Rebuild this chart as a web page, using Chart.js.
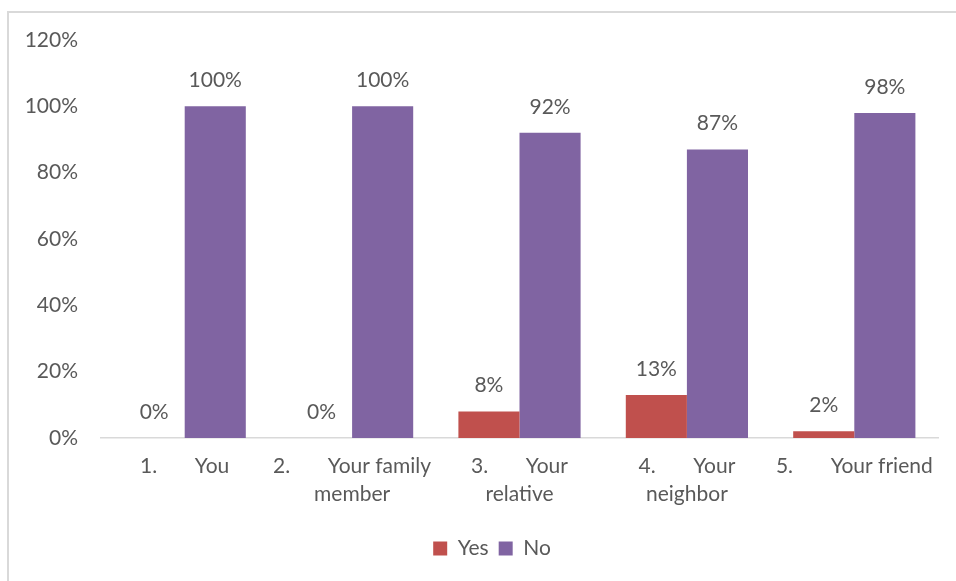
<!DOCTYPE html>
<html>
<head>
<meta charset="utf-8">
<script src="https://cdn.jsdelivr.net/npm/chart.js@4.4.1/dist/chart.umd.min.js"></script>
<style>
  html, body { margin: 0; padding: 0; background: #fff; }
  #frame {
    position: absolute; left: 7px; top: 11px; width: 949px; height: 570px;
    border-left: 2px solid #D9D9D9; border-top: 2px solid #D9D9D9;
  }
  #wrap { position: absolute; left: 0; top: 0; width: 956px; height: 581px; }
</style>
</head>
<body>
<div id="frame"></div>
<div id="wrap"><canvas id="myChart" width="956" height="581"></canvas></div>
<script>
// categories (multi-line labels as in the original)
const categories = [
  ['1.       You'],
  ['2.       Your family', 'member'],
  ['3.       Your', 'relative'],
  ['4.       Your', 'neighbor'],
  ['5.       Your friend']
];
const yesValues = [0, 0, 8, 13, 2];
const noValues = [100, 100, 92, 87, 98];
const yTicks = [0, 20, 40, 60, 80, 100, 120];

const textColor = '#595959';
const fontFamily = 'Lato, "Open Sans", sans-serif';

// draws the percent above every bar, the library has no built-in data labels
const valueLabels = {
  id: 'valueLabels',
  afterDatasetsDraw(chart) {
    const ctx = chart.ctx;
    ctx.save();
    ctx.font = '21px ' + fontFamily;
    ctx.fillStyle = textColor;
    ctx.textAlign = 'center';
    ctx.textBaseline = 'alphabetic';
    chart.data.datasets.forEach((ds, i) => {
      chart.getDatasetMeta(i).data.forEach((bar, j) => {
        ctx.fillText(ds.data[j] + '%', bar.x, bar.y - 19);
      });
    });
    ctx.restore();
  }
};

// legend in the original sits a bit right of the canvas middle
const shiftLegend = {
  id: 'shiftLegend',
  afterLayout(chart) {
    if (chart.legend) chart.legend.left = 46;
  }
};

new Chart(document.getElementById('myChart'), {
  type: 'bar',
  data: {
    labels: categories,
    datasets: [
      { label: 'Yes', data: yesValues, backgroundColor: '#C0504D', barPercentage: 1, categoryPercentage: 0.73 },
      { label: 'No', data: noValues, backgroundColor: '#8064A2', barPercentage: 1, categoryPercentage: 0.73 }
    ]
  },
  options: {
    responsive: false,
    animation: false,
    layout: { padding: { left: 0, right: 18, top: 40, bottom: 12 } },
    plugins: {
      tooltip: { enabled: false },
      legend: {
        position: 'bottom',
        labels: {
          color: textColor,
          font: { family: fontFamily, size: 21 },
          boxWidth: 14, boxHeight: 14, padding: 10
        }
      }
    },
    scales: {
      x: {
        grid: { display: false, drawTicks: false },
        border: { display: true, color: '#D9D9D9', width: 1.5 },
        ticks: {
          color: textColor, padding: 14, maxRotation: 0, autoSkip: false,
          font: { family: fontFamily, size: 21, lineHeight: 1.33 }
        },
        afterFit(scale) { scale.height = 90; }
      },
      y: {
        min: 0, max: 120,
        grid: { display: false },
        border: { display: false },
        afterBuildTicks(scale) { scale.ticks = yTicks.map(v => ({ value: v })); },
        ticks: {
          color: textColor, padding: 15,
          font: { family: fontFamily, size: 21 },
          callback: v => v + '%'
        },
        afterFit(scale) { scale.width = 101; }
      }
    }
  },
  plugins: [valueLabels, shiftLegend]
});
</script>
</body>
</html>
